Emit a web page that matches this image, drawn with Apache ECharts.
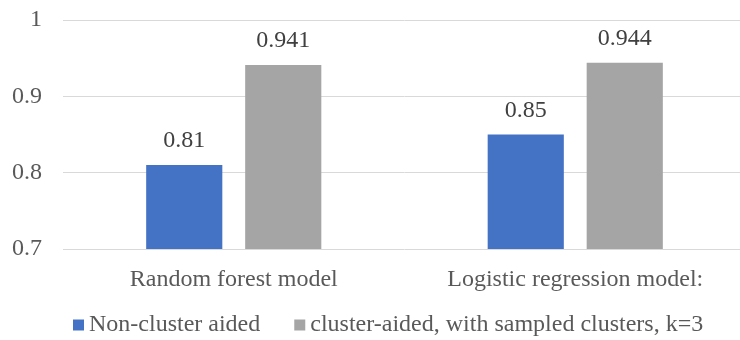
<!DOCTYPE html>
<html><head><meta charset="utf-8">
<script src="https://cdn.jsdelivr.net/npm/echarts@6/dist/echarts.min.js"></script>
<style>html,body{margin:0;padding:0;background:#fff;overflow:hidden}#c{width:750px;height:340px}</style>
</head><body><div id="c"></div>
<script>
const categories = ["Random forest model", "Logistic regression model:"];
const seriesNames = ["Non-cluster aided", "cluster-aided, with sampled clusters, k=3"];
const nonClusterValues = [0.81, 0.85];
const clusterAidedValues = [0.941, 0.944];
const labelTexts1 = ["0.81", "0.85"];
const labelTexts2 = ["0.941", "0.944"];

const font = '"Liberation Serif", "Times New Roman", serif';
const fs = 24;
const chart = echarts.init(document.getElementById('c'));
chart.setOption({
  animation: false,
  grid: { left: 63, top: 20, width: 683, bottom: 91, containLabel: false },
  legend: {
    bottom: -2, left: 68, itemWidth: 11, itemHeight: 11, itemGap: 34, icon: 'rect',
    textStyle: { fontFamily: font, fontSize: fs, color: '#595959' },
    data: seriesNames
  },
  xAxis: {
    type: 'category', data: categories,
    axisLine: { show: false }, axisTick: { show: false },
    axisLabel: { fontFamily: font, fontSize: fs, color: '#595959', margin: 19 }
  },
  yAxis: {
    type: 'value', min: 0.7, max: 1, interval: 0.1,
    axisLine: { show: false }, axisTick: { show: false },
    splitLine: { lineStyle: { color: '#D9D9D9', width: 1 } },
    axisLabel: { fontFamily: font, fontSize: fs, color: '#595959', margin: 21,
      formatter: v => (Math.round(v*10)/10).toString() }
  },
  series: [
    { name: seriesNames[0], type: 'bar', data: nonClusterValues, barWidth: '22.3%', barGap: '30%',
      itemStyle: { color: '#4472C4' },
      label: { show: true, position: 'top', distance: 12, fontFamily: font, fontSize: fs, color: '#404040',
        formatter: p => labelTexts1[p.dataIndex] } },
    { name: seriesNames[1], type: 'bar', data: clusterAidedValues, barWidth: '22.3%', barGap: '30%',
      itemStyle: { color: '#A5A5A5' },
      label: { show: true, position: 'top', distance: 12, fontFamily: font, fontSize: fs, color: '#404040',
        formatter: p => labelTexts2[p.dataIndex] } }
  ]
});
</script></body></html>
